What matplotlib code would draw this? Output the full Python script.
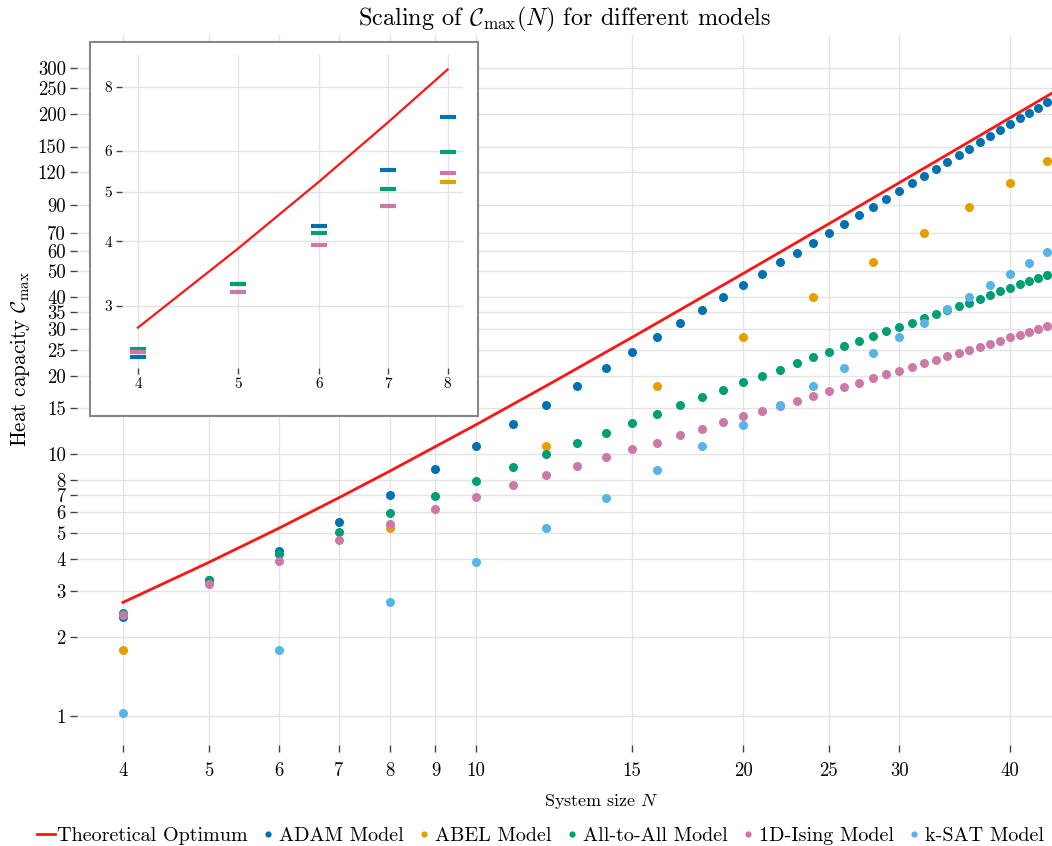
import matplotlib
matplotlib.use('Agg')
import matplotlib.pyplot as plt
from matplotlib.patches import Rectangle
from matplotlib.lines import Line2D

plt.rcParams['font.family'] = 'cmr10'
plt.rcParams['mathtext.fontset'] = 'cm'
plt.rcParams['axes.unicode_minus'] = False
plt.rcParams['axes.formatter.use_mathtext'] = True

# theoretical optimum
n_opt = [4, 5, 6, 7, 8, 10, 12, 15, 20, 25, 30, 35, 40, 45]
c_opt = [2.72, 3.87, 5.23, 6.82, 8.64, 12.98, 18.28, 28.01, 49.04, 76.07, 109.1, 148.1, 193.2, 244.2]

n_all = list(range(4, 45))
c_adam = [2.39, 3.30, 4.28, 5.52, 7.00, 8.76, 10.8, 13.05, 15.5, 18.3,
          21.4, 24.6, 28.0, 31.8, 35.7, 39.8, 44.3, 48.9, 54.2, 59.0,
          64.4, 70.1, 75.9, 82.0, 88.4, 94.9, 101.6, 108.5, 115.6, 123.1,
          131.3, 138.8, 147.2, 155.6, 164.6, 173.5, 182.9, 192.1, 201.5, 211.1,
          221.2]
c_a2a = [2.47, 3.30, 4.16, 5.05, 5.98, 6.95, 7.93, 8.94, 10.0, 11.05,
         12.1, 13.2, 14.3, 15.4, 16.55, 17.65, 18.85, 20.0, 21.1, 22.3,
         23.5, 24.7, 25.9, 27.1, 28.4, 29.5, 30.8, 31.9, 33.2, 34.4,
         35.7, 36.8, 38.0, 39.4, 40.7, 42.0, 43.3, 44.6, 45.9, 47.2,
         48.6]
c_ising = [2.44, 3.19, 3.93, 4.69, 5.43, 6.17, 6.89, 7.61, 8.34, 9.05,
           9.74, 10.45, 11.1, 11.9, 12.5, 13.25, 13.96, 14.65, 15.3, 16.0,
           16.7, 17.4, 18.1, 18.8, 19.5, 20.2, 20.9, 21.5, 22.3, 23.0,
           23.7, 24.4, 25.1, 25.8, 26.5, 27.2, 28.0, 28.7, 29.4, 30.1,
           30.9]

n_abel = [4, 8, 12, 16, 20, 24, 28, 32, 36, 40, 44]
c_abel = [1.79, 5.23, 10.73, 18.3, 28.0, 39.8, 54.2, 69.9, 88.4, 108.5, 131.7]

n_ksat = [4, 6, 8, 10, 12, 14, 16, 18, 20, 22, 24, 26, 28, 30, 32, 34, 36, 38, 40, 42, 44]
c_ksat = [1.03, 1.79, 2.73, 3.87, 5.25, 6.84, 8.69, 10.73, 13.0, 15.5, 18.3,
          21.4, 24.5, 28.0, 31.7, 35.8, 39.8, 44.3, 48.9, 53.9, 59.2]

x_ticks = [4, 5, 6, 7, 8, 9, 10, 15, 20, 25, 30, 40]
y_ticks = [1, 2, 3, 4, 5, 6, 7, 8, 10, 15, 20, 25, 30, 35, 40, 50, 60, 70, 90, 120, 150, 200, 250, 300]
inset_x_ticks = [4, 5, 6, 7, 8]
inset_y_ticks = [3, 4, 5, 6, 8]

labels = ['Theoretical Optimum', 'ADAM Model', 'ABEL Model', 'All-to-All Model', '1D-Ising Model', 'k-SAT Model']
colors = ['#ff1414', '#0072b2', '#e69f00', '#009e73', '#cc79a7', '#56b4e9']

fig = plt.figure(figsize=(10.52, 8.46), dpi=100)
ax = fig.add_axes([0.0732, 0.1194, 0.9268, 0.8392])
ax.set_xscale('log')
ax.set_yscale('log')

ax.plot(n_opt, c_opt, color=colors[0], lw=2, zorder=3)
ms = 6.5
ax.plot(n_all, c_adam, 'o', color=colors[1], ms=ms, mew=0, zorder=4)
ax.plot(n_abel, c_abel, 'o', color=colors[2], ms=ms, mew=0, zorder=4)
ax.plot(n_all, c_a2a, 'o', color=colors[3], ms=ms, mew=0, zorder=4)
ax.plot(n_all, c_ising, 'o', color=colors[4], ms=ms, mew=0, zorder=4)
ax.plot(n_ksat, c_ksat, 'o', color=colors[5], ms=ms, mew=0, zorder=4)

ax.set_xlim(3.55, 44.6)
ax.set_ylim(0.776, 400)
ax.set_xticks(x_ticks)
ax.set_xticklabels([str(t) for t in x_ticks])
ax.set_yticks(y_ticks)
ax.set_yticklabels([str(t) for t in y_ticks])
ax.minorticks_off()
ax.tick_params(direction='out', length=5, width=1, color='#444444', labelsize=13.5, pad=3)
ax.tick_params(axis='x', pad=7)
ax.grid(True, color='#e4e4e4', lw=1)
ax.set_axisbelow(True)
for s in ax.spines.values():
    s.set_visible(False)

ax.set_title(r'Scaling of $\mathcal{C}_{\max}(N)$ for different models', fontsize=17.5, pad=7)
ax.set_xlabel(r'System size $N$', fontsize=13)
ax.set_ylabel(r'Heat capacity $\mathcal{C}_{\max}$', fontsize=15.2)
ax.xaxis.set_label_coords(0.538, -0.066)
ax.yaxis.set_label_coords(-0.046, 0.544)

# inset box + inset axes
box = Rectangle((0.0856, 0.5083), 0.3688, 0.4421, transform=fig.transFigure,
                facecolor='white', edgecolor='#888888', lw=1.5, zorder=1)
fig.patches.append(box)

ins = fig.add_axes([0.116, 0.565, 0.3241, 0.370], zorder=2)
ins.set_xscale('log')
ins.set_yscale('log')
k = 5  # N = 4..8
ins.plot(n_opt[:5], c_opt[:5], color=colors[0], lw=1.6, zorder=3)
bar = dict(marker='_', ls='none', ms=11, mew=3, zorder=4)
ins.plot(n_all[:k], c_adam[:k], color=colors[1], **bar)
ins.plot(n_abel[:2], c_abel[:2], color=colors[2], **bar)
ins.plot(n_all[:k], c_a2a[:k], color=colors[3], **bar)
ins.plot(n_all[:k], c_ising[:k], color=colors[4], **bar)
ins.set_xlim(3.86, 8.28)
ins.set_ylim(2.27, 9.22)
ins.set_xticks(inset_x_ticks)
ins.set_xticklabels([str(t) for t in inset_x_ticks])
ins.set_yticks(inset_y_ticks)
ins.set_yticklabels([str(t) for t in inset_y_ticks])
ins.minorticks_off()
ins.tick_params(direction='out', length=4, width=1, color='#444444', labelsize=11, pad=3)
ins.grid(True, color='#e4e4e4', lw=1)
ins.set_axisbelow(True)
for s in ins.spines.values():
    s.set_visible(False)

handles = [Line2D([], [], color=colors[0], lw=2)]
for c in colors[1:]:
    handles.append(Line2D([], [], marker='o', ls='none', color=c, ms=4.5, mew=0))
fig.legend(handles, labels, loc='center', bbox_to_anchor=(0.514, 0.012), ncol=6,
           frameon=False, fontsize=14.5, handlelength=0.9, handletextpad=0.1,
           columnspacing=0.55, borderpad=0)

fig.savefig('out.png', dpi=100)
